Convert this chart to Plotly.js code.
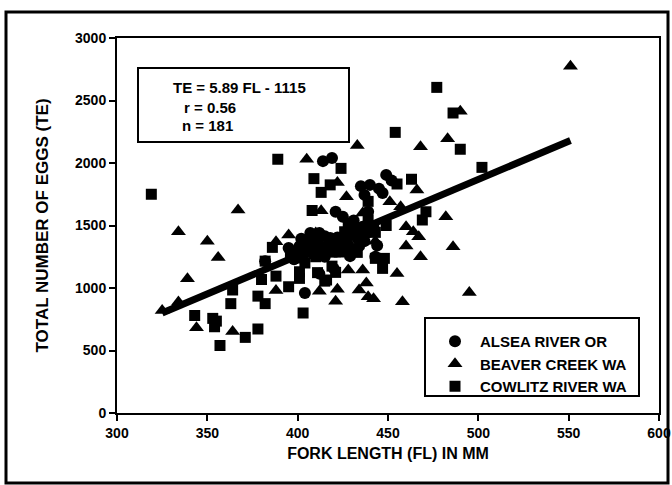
<!DOCTYPE html>
<html>
<head>
<meta charset="utf-8">
<script src="https://cdn.plot.ly/plotly-3.0.1.min.js"></script>
<style>html,body{margin:0;padding:0;background:#fff;}#chart{width:672px;height:485px;}</style>
</head>
<body>
<div id="chart"></div>
<script>
// ALSEA RIVER OR (circles)
const alseaFL = [414,419,449,452,435,440,445,437,439,421,425,431,429,408,411,415,418,422,405,401,398,403,408,417,422,382,404,412,420,429,434,437,444,410,413,406,426,432,427,415,398,395,442,436,447,443,402,407,412,419,424,430,433,438,428,416,409];
const alseaTE = [2015,2040,1905,1860,1815,1825,1795,1745,1610,1610,1570,1540,1470,1415,1390,1415,1400,1405,1375,1335,1285,1255,1285,1335,1335,1215,960,1115,1155,1255,1335,1375,1340,1350,1320,1310,1380,1420,1300,1250,1230,1320,1485,1490,1760,1250,1395,1440,1440,1370,1365,1460,1400,1440,1345,1300,1270];
// BEAVER CREEK WA (triangles)
const beaverFL = [551,490,483,468,433,405,422,427,413,466,451,457,482,367,334,350,356,339,334,325,344,364,388,395,388,412,422,421,434,428,436,438,439,442,458,455,460,464,467,460,486,468,443,424,418,495,430,410,436,400];
const beaverTE = [2775,2415,2195,2130,2140,2030,1845,1730,1618,1785,1690,1650,1570,1624,1450,1375,1245,1075,888,820,683,652,1370,1425,980,975,990,895,985,1144,1144,1040,930,915,890,1117,1490,1450,1410,1336,1330,1250,1375,1270,1270,965,1500,1440,1600,1300];
// COWLITZ RIVER WA (squares)
const cowlitzFL = [319,389,477,486,454,490,502,424,409,463,413,418,455,408,439,439,471,469,449,443,386,436,433,443,448,447,419,421,415,411,401,401,395,388,380,382,378,382,364,363,343,353,355,354,357,371,378,403,416,426,428,404,410,407,414,421,427,432,400,396];
const cowlitzTE = [1750,2030,2605,2400,2245,2110,1965,1957,1875,1870,1765,1825,1832,1620,1693,1544,1610,1544,1500,1445,1325,1390,1285,1237,1237,1157,1175,1125,1055,1123,1077,1130,1010,1095,1068,1215,935,875,984,875,780,757,735,690,540,605,672,800,1064,1450,1520,1200,1250,1340,1310,1290,1420,1470,1240,1270];
// Regression line TE = 5.89 FL - 1115 (end points)
const lineFL = [325, 551];
const lineTE = [800, 2180];
const seriesNames = ["ALSEA RIVER OR", "BEAVER CREEK WA", "COWLITZ RIVER WA"];
const xTicks = [300,350,400,450,500,550,600];
const yTicks = [0,500,1000,1500,2000,2500,3000];
const statLines = ["TE = 5.89 FL - 1115", "r = 0.56", "n = 181"];

const FONT = "Liberation Sans, Arial, sans-serif";
const mk = (sym, size) => ({symbol: sym, size: size, color: "#000", line: {width: 0}});

const traces = [
  {x: lineFL, y: lineTE, mode: "lines", line: {color: "#000", width: 7}, showlegend: false, hoverinfo: "skip"},
  {x: alseaFL, y: alseaTE, mode: "markers", name: seriesNames[0], marker: mk("circle", 12)},
  {x: beaverFL, y: beaverTE, mode: "markers", name: seriesNames[1], marker: mk("triangle-up", 13)},
  {x: cowlitzFL, y: cowlitzTE, mode: "markers", name: seriesNames[2], marker: mk("square", 11)}
];

// pixel helpers for layout boxes (plot area 117..659 x 38..413)
const L = 117, R = 659, T = 38, B = 413;
const px = v => (v - L) / (R - L);
const py = v => (B - v) / (B - T);

const layout = {
  width: 672, height: 485,
  margin: {l: L, r: 672 - R, t: T, b: 485 - B},
  paper_bgcolor: "#fff", plot_bgcolor: "#fff",
  font: {family: FONT, color: "#000", size: 14, weight: 700},
  showlegend: true,
  xaxis: {
    range: [300, 600], tickvals: xTicks, ticktext: xTicks.map(String),
    showline: true, linecolor: "#000", linewidth: 2, mirror: true,
    ticks: "outside", ticklen: 6, tickwidth: 2, tickcolor: "#000",
    showgrid: false, zeroline: false,
    tickfont: {family: FONT, size: 14, weight: 700},
    title: {text: "FORK LENGTH (FL) IN MM", font: {family: FONT, size: 16, weight: 700}, standoff: 8}
  },
  yaxis: {
    range: [0, 3000], tickvals: yTicks, ticktext: yTicks.map(String),
    showline: true, linecolor: "#000", linewidth: 2, mirror: true,
    ticks: "outside", ticklen: 6, tickwidth: 2, tickcolor: "#000",
    showgrid: false, zeroline: false,
    tickfont: {family: FONT, size: 14, weight: 700},
    title: {text: "TOTAL NUMBER OF EGGS (TE)", font: {family: FONT, size: 17, weight: 700}, standoff: 22}
  },
  legend: {
    x: px(430), y: py(325), xanchor: "left", yanchor: "top",
    bgcolor: "rgba(0,0,0,0)", borderwidth: 0,
    itemwidth: 40,
    font: {family: FONT, size: 15, weight: 700}
  },
  shapes: [
    // stats box
    {type: "rect", xref: "paper", yref: "paper", x0: px(138), x1: px(349), y0: py(142), y1: py(68), line: {color: "#000", width: 2}},
    // legend box
    {type: "rect", xref: "paper", yref: "paper", x0: px(425), x1: px(639), y0: py(396), y1: py(318), line: {color: "#000", width: 2}, fillcolor: "#fff", layer: "below"},
    // outer frame
    {type: "rect", xref: "paper", yref: "paper", x0: px(6), x1: px(668), y0: py(483), y1: py(12), line: {color: "#000", width: 3}}
  ],
  annotations: [
    {xref: "paper", yref: "paper", x: px(171), y: py(88), xanchor: "left", yanchor: "middle", showarrow: false, text: statLines[0], font: {family: FONT, size: 15, weight: 700}},
    {xref: "paper", yref: "paper", x: px(182), y: py(107), xanchor: "left", yanchor: "middle", showarrow: false, text: statLines[1], font: {family: FONT, size: 15, weight: 700}},
    {xref: "paper", yref: "paper", x: px(180), y: py(125), xanchor: "left", yanchor: "middle", showarrow: false, text: statLines[2], font: {family: FONT, size: 15, weight: 700}}
  ]
};

Plotly.newPlot("chart", traces, layout, {displayModeBar: false, staticPlot: true});
</script>
</body>
</html>
